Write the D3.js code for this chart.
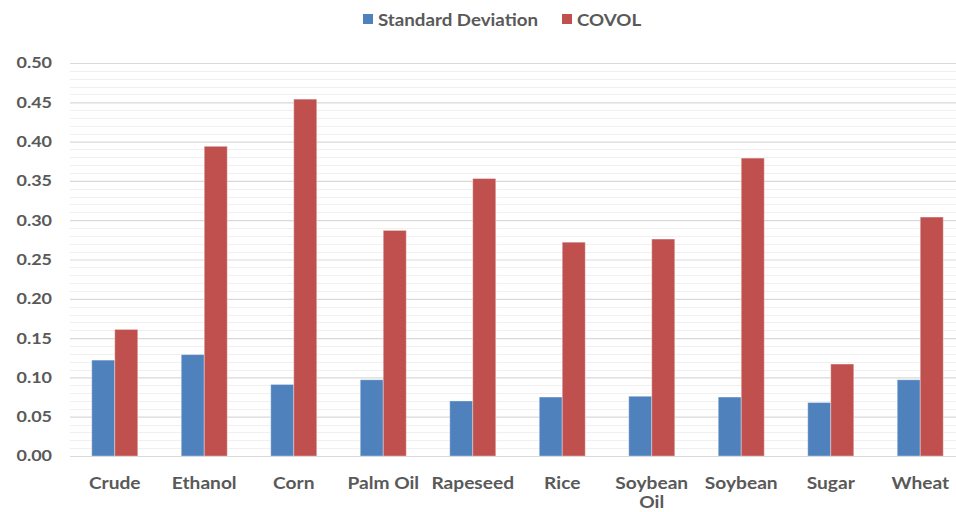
<!DOCTYPE html>
<html>
<head>
<meta charset="utf-8">
<script src="https://cdn.jsdelivr.net/npm/d3@7"></script>
<style>
  html, body { margin: 0; padding: 0; background: #fff; }
  svg { display: block; }
  text { font-family: Lato, "Open Sans", sans-serif; fill: #595959; }
</style>
</head>
<body>
<svg id="chart" width="956" height="512"></svg>
<script>
// Commodity volatility measures
const categories = ["Crude", "Ethanol", "Corn", "Palm Oil", "Rapeseed", "Rice", "Soybean Oil", "Soybean", "Sugar", "Wheat"];
const seriesNames = ["Standard Deviation", "COVOL"];
const stdDev = [0.122, 0.129, 0.091, 0.097, 0.070, 0.075, 0.076, 0.075, 0.068, 0.097];
const covol  = [0.161, 0.394, 0.454, 0.287, 0.353, 0.272, 0.276, 0.379, 0.117, 0.304];
const yTicks = [0, 0.05, 0.10, 0.15, 0.20, 0.25, 0.30, 0.35, 0.40, 0.45, 0.50];
const colors = ["#4F81BD", "#C0504D"];

const svg = d3.select("#chart");
const plot = { left: 70, right: 965, top: 63, bottom: 456 };

const y = d3.scaleLinear().domain([0, 0.5]).range([plot.bottom, plot.top]);
const x0 = d3.scaleBand().domain(categories).range([plot.left, plot.right])
  .paddingInner(0.486).paddingOuter(0.243);
const x1 = d3.scaleBand().domain(seriesNames).range([0, x0.bandwidth()]);

// Text is drawn slightly widened to get the broad label look
const tickStretch = 1.16, catStretch = 1.1, legendStretch = 1.07;

// Minor gridlines every 0.01
const minor = d3.range(0, 51).map(i => i / 100).filter(v => Math.round(v * 100) % 5 !== 0);
svg.append("g").selectAll("line").data(minor).join("line")
  .attr("x1", plot.left).attr("x2", 956)
  .attr("y1", d => Math.round(y(d)) + 0.5).attr("y2", d => Math.round(y(d)) + 0.5)
  .attr("stroke", "#f0f0f0").attr("stroke-width", 1);

// Y axis with major gridlines
const yAxis = d3.axisLeft(y).tickValues(yTicks).tickFormat(d3.format(".2f"))
  .tickSize(-(956 - plot.left)).tickPadding(18);
const gy = svg.append("g").attr("transform", `translate(${plot.left},0)`).call(yAxis);
gy.select(".domain").remove();
gy.selectAll(".tick line").attr("stroke", "#d9d9d9").attr("stroke-width", 1.2);
gy.selectAll(".tick text").attr("font-size", 15.5).attr("font-weight", "bold")
  .style("fill", "#595959")
  .attr("x", -18 / tickStretch)
  .attr("transform", `scale(${tickStretch},1)`);

// Bars
const rows = categories.map((c, i) => ({ cat: c, vals: [stdDev[i], covol[i]] }));
const groups = svg.append("g").selectAll("g").data(rows).join("g")
  .attr("transform", d => `translate(${x0(d.cat)},0)`);
groups.selectAll("rect").data(d => d.vals.map((v, k) => ({ v, k })))
  .join("rect")
  .attr("x", d => x1(seriesNames[d.k]))
  .attr("y", d => y(d.v))
  .attr("width", x1.bandwidth())
  .attr("height", d => y(0) - y(d.v))
  .attr("fill", d => colors[d.k])
  .attr("stroke", "rgba(255,255,255,0.35)")
  .attr("stroke-width", 1);

// Category axis
const xAxis = d3.axisBottom(x0).tickSize(0).tickPadding(0);
const gx = svg.append("g").attr("transform", `translate(0,${plot.bottom})`).call(xAxis);
gx.select(".domain").attr("stroke", "#d9d9d9").attr("stroke-width", 1.2)
  .attr("d", `M${plot.left},0.5H956`);
gx.selectAll(".tick text").attr("font-size", 17.4).attr("font-weight", "bold")
  .style("fill", "#595959").attr("y", 33).attr("dy", 0)
  .attr("transform", `scale(${catStretch},1)`)
  .each(function(d) {
    const t = d3.select(this);
    if (d === "Soybean Oil") {
      t.text(null);
      t.append("tspan").attr("x", 0).attr("y", 33).text("Soybean");
      t.append("tspan").attr("x", 0).attr("y", 52).text("Oil");
    }
  });

// Legend
const legend = svg.append("g");
const legendItems = [{ name: seriesNames[0], x: 363 }, { name: seriesNames[1], x: 562 }];
legendItems.forEach((it, i) => {
  legend.append("rect").attr("x", it.x).attr("y", 14).attr("width", 10).attr("height", 10)
    .attr("fill", colors[i]);
  legend.append("text")
    .attr("transform", `translate(${it.x + 15},25.5) scale(${legendStretch},1)`)
    .attr("font-size", 17.5).attr("font-weight", "bold").text(it.name);
});
</script>
</body>
</html>
